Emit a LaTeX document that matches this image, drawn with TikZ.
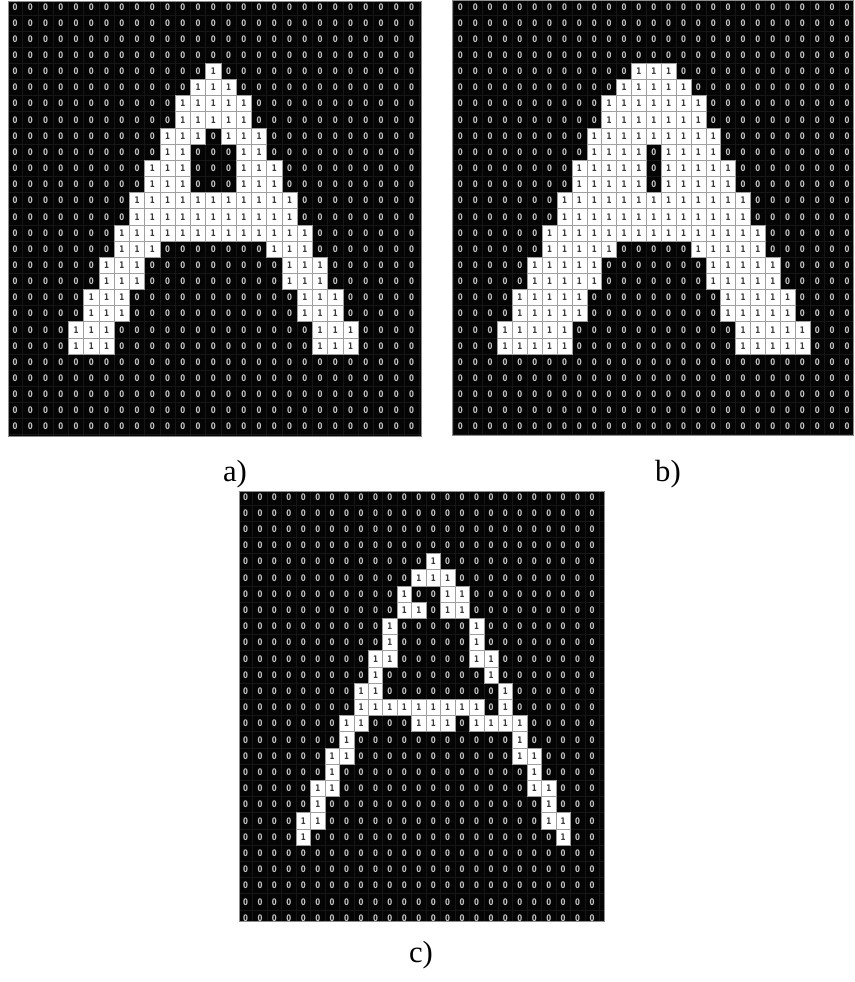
\documentclass[tikz,border=0pt]{standalone}
\usepackage{fontspec}
\setmainfont{Liberation Serif}
\newfontfamily\digitfont[FakeStretch=0.78]{DejaVu Sans}
\definecolor{zerogray}{HTML}{C4C4C4}
\definecolor{onegray}{HTML}{383838}
\definecolor{cellgray}{HTML}{A0A0A0}
\definecolor{gridcol}{HTML}{161616}
\definecolor{bgcol}{HTML}{040404}
\definecolor{bordercol}{HTML}{8C8C8C}
\tikzset{
  zero/.style={inner sep=0pt, text=zerogray, font=\digitfont\bfseries\fontsize{6.8}{8}\selectfont},
  one/.style={inner sep=0pt, text=onegray, font=\digitfont\bfseries\fontsize{6.8}{8}\selectfont},
  whitecell/.style={fill=white, draw=cellgray, line width=0.4pt},
  gridline/.style={draw=gridcol, line width=0.4pt},
  gridborder/.style={draw=bordercol, line width=0.6pt},
  caption/.style={inner sep=0pt, font=\fontsize{23}{27}\selectfont}
}
% #1 name, #2 left, #3 top, #4 cell w, #5 cell h, #6 clip x1, #7 clip y1, #8 clip x2, #9 clip y2
\newcommand{\bingrid}[9]{%
  \begin{scope}
    \clip (#6,#7) rectangle (#8,#9);
    \fill[bgcol] (#6,#7) rectangle (#8,#9);
    \foreach \c in {0,...,27} \draw[gridline] ({#2+\c*#4},#7) -- ({#2+\c*#4},#9);
    \foreach \r in {0,...,27} \draw[gridline] (#6,{#3+\r*#5}) -- (#8,{#3+\r*#5});
    \foreach \r in {1,...,27} {
      \foreach \c in {1,...,27} {
        \node[zero] (#1-\r-\c) at ({#2+(\c-0.5)*#4},{#3+(\r-0.5)*#5}) {0};
      }
    }
    \foreach \r/\ca/\cb in \segs {
      \foreach \c in {\ca,...,\cb} {
        \draw[whitecell] ({#2+(\c-1)*#4},{#3+(\r-1)*#5}) rectangle ++(#4,#5);
        \node[one] (#1o-\r-\c) at ({#2+(\c-0.5)*#4},{#3+(\r-0.5)*#5}) {1};
      }
    }
  \end{scope}
  \draw[gridborder] (#6,#7) rectangle (#8,#9);
}
\def\segsA{5/14/14,6/13/15,7/12/16,8/12/16,9/11/13,9/15/17,10/11/12,10/16/17,11/10/12,11/16/18,12/10/12,12/16/18,13/9/19,14/9/19,15/8/20,16/8/10,16/18/20,17/7/9,17/19/21,18/7/9,18/19/21,19/6/8,19/20/22,20/6/8,20/20/22,21/5/7,21/21/23,22/5/7,22/21/23}
\def\segsB{5/13/15,6/12/16,7/11/17,8/11/17,9/10/18,10/10/13,10/15/18,11/9/13,11/15/19,12/9/13,12/15/19,13/8/20,14/8/20,15/7/21,16/7/11,16/17/21,17/6/10,17/18/22,18/6/10,18/18/22,19/5/9,19/19/23,20/5/9,20/19/23,21/4/8,21/20/24,22/4/8,22/20/24}
\def\segsC{5/14/14,6/13/15,7/12/12,7/15/16,8/12/13,8/15/16,9/11/11,9/17/17,10/11/11,10/17/17,11/10/11,11/17/18,12/10/10,12/18/18,13/9/10,13/19/19,14/9/17,14/19/19,15/8/9,15/13/15,15/17/20,16/8/8,16/20/20,17/7/8,17/20/21,18/7/7,18/21/21,19/6/7,19/21/22,20/6/6,20/22/22,21/5/6,21/22/23,22/5/5,22/23/23}
\begin{document}
\begin{tikzpicture}[x=0.75pt,y=-0.75pt]
\useasboundingbox (0,0) rectangle (854,982);
\fill[white] (0,0) rectangle (854,982);
\let\segs\segsA
\bingrid{a}{7.5}{-1.3}{15.25}{16.15}{8}{1.7}{421}{436}
\let\segs\segsB
\bingrid{b}{453}{-1.3}{14.87}{16.15}{452.3}{0.3}{853.7}{435}
\let\segs\segsC
\bingrid{c}{238.3}{488.7}{14.44}{16.2}{239.3}{491.3}{604}{921.7}
\node[caption] (capa) at (235,474) {a)};
\node[caption] (capb) at (668,474) {b)};
\node[caption] (capc) at (421,955) {c)};
\end{tikzpicture}
\end{document}
